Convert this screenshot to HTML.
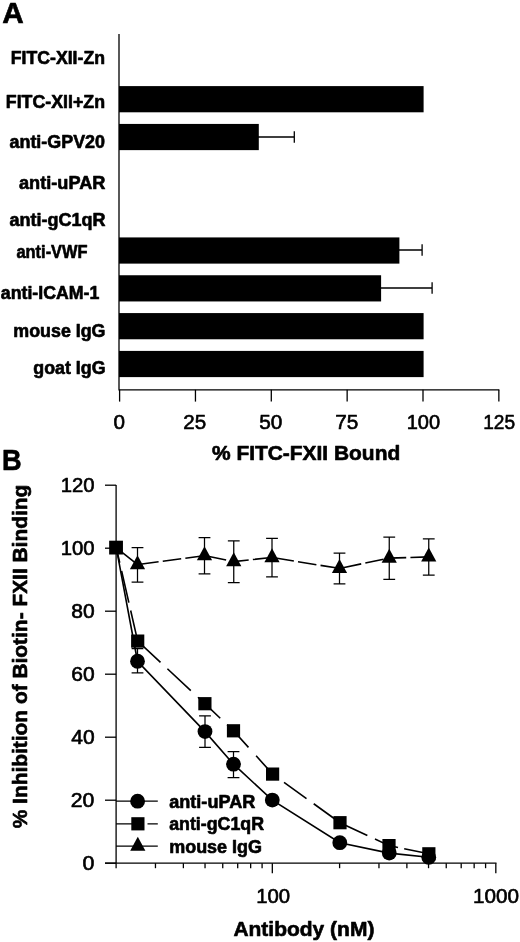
<!DOCTYPE html>
<html><head><meta charset="utf-8"><title>Figure</title>
<style>
html,body{margin:0;padding:0;background:#fff;}
body{width:520px;height:942px;overflow:hidden;}
svg{display:block;}
svg{will-change:transform;}
text{font-family:"Liberation Sans",sans-serif;fill:#000;stroke:#000;stroke-width:0.6px;stroke-linejoin:round;}
.b{font-weight:bold;stroke-width:0.65px;}
</style></head><body>
<svg width="520" height="942" viewBox="0 0 520 942">
<rect x="0" y="0" width="520" height="942" fill="#fff"/>

<text class="b" x="2.30" y="23.40" font-size="29.5" textLength="21.50" lengthAdjust="spacingAndGlyphs">A</text>
<text class="b" x="2.00" y="470.10" font-size="30" textLength="19.60" lengthAdjust="spacingAndGlyphs">B</text>
<g id="panelA">
<rect x="119.00" y="86.10" width="304.60" height="26.20" fill="#000"/>
<rect x="119.00" y="123.93" width="139.80" height="26.20" fill="#000"/>
<rect x="119.00" y="237.42" width="280.40" height="26.20" fill="#000"/>
<rect x="119.00" y="275.25" width="262.10" height="26.20" fill="#000"/>
<rect x="119.00" y="313.08" width="304.60" height="26.20" fill="#000"/>
<rect x="119.00" y="350.91" width="304.60" height="26.20" fill="#000"/>
<path d="M257.80 137.00H294.50M294.30 131.30V142.70" stroke="#000" stroke-width="1.3" fill="none"/>
<path d="M398.40 250.00H422.30M422.10 244.30V255.70" stroke="#000" stroke-width="1.3" fill="none"/>
<path d="M380.10 288.00H432.30M432.10 282.30V293.70" stroke="#000" stroke-width="1.3" fill="none"/>
<path d="M119.00 34.00V389.80H499.3" stroke="#000" stroke-width="1.3" fill="none"/>
<path d="M119.60 389.80V401.60" stroke="#000" stroke-width="1.3"/>
<path d="M195.45 389.80V401.60" stroke="#000" stroke-width="1.3"/>
<path d="M271.30 389.80V401.60" stroke="#000" stroke-width="1.3"/>
<path d="M347.15 389.80V401.60" stroke="#000" stroke-width="1.3"/>
<path d="M423.00 389.80V401.60" stroke="#000" stroke-width="1.3"/>
<path d="M498.85 389.80V401.60" stroke="#000" stroke-width="1.3"/>
<text x="113.50" y="429.30" font-size="19.5" textLength="11.50" lengthAdjust="spacingAndGlyphs">0</text>
<text x="183.20" y="429.30" font-size="19.5" textLength="22.90" lengthAdjust="spacingAndGlyphs">25</text>
<text x="259.20" y="429.30" font-size="19.5" textLength="23.10" lengthAdjust="spacingAndGlyphs">50</text>
<text x="335.20" y="429.30" font-size="19.5" textLength="23.10" lengthAdjust="spacingAndGlyphs">75</text>
<text x="406.70" y="429.30" font-size="19.5" textLength="33.40" lengthAdjust="spacingAndGlyphs">100</text>
<text x="483.20" y="429.30" font-size="19.5" textLength="31.90" lengthAdjust="spacingAndGlyphs">125</text>
<text class="b" x="10.80" y="63.70" font-size="18.3" textLength="94.20" lengthAdjust="spacingAndGlyphs">FITC-XII-Zn</text>
<text class="b" x="5.80" y="107.90" font-size="18.3" textLength="99.20" lengthAdjust="spacingAndGlyphs">FITC-XII+Zn</text>
<text class="b" x="9.50" y="148.20" font-size="18.3" textLength="95.50" lengthAdjust="spacingAndGlyphs">anti-GPV20</text>
<text class="b" x="19.00" y="188.70" font-size="18.3" textLength="86.50" lengthAdjust="spacingAndGlyphs">anti-uPAR</text>
<text class="b" x="9.50" y="226.20" font-size="18.3" textLength="96.00" lengthAdjust="spacingAndGlyphs">anti-gC1qR</text>
<text class="b" x="16.50" y="257.90" font-size="18.3" textLength="71.00" lengthAdjust="spacingAndGlyphs">anti-VWF</text>
<text class="b" x="0.80" y="299.40" font-size="18.3" textLength="98.50" lengthAdjust="spacingAndGlyphs">anti-ICAM-1</text>
<text class="b" x="13.30" y="336.90" font-size="18.3" textLength="92.20" lengthAdjust="spacingAndGlyphs">mouse IgG</text>
<text class="b" x="33.30" y="374.40" font-size="18.3" textLength="72.20" lengthAdjust="spacingAndGlyphs">goat IgG</text>
<text class="b" x="212.00" y="459.60" font-size="21" textLength="188.20" lengthAdjust="spacingAndGlyphs">% FITC-FXII Bound</text>
</g>
<g id="panelB">
<path d="M116.10 485.0V863.20" stroke="#000" stroke-width="1.3" fill="none"/>
<path d="M105 863.20H496.5" stroke="#000" stroke-width="1.3" fill="none"/>
<path d="M105 863.20H116.10" stroke="#000" stroke-width="1.3"/>
<path d="M105 800.20H116.10" stroke="#000" stroke-width="1.3"/>
<path d="M105 737.20H116.10" stroke="#000" stroke-width="1.3"/>
<path d="M105 674.20H116.10" stroke="#000" stroke-width="1.3"/>
<path d="M105 611.20H116.10" stroke="#000" stroke-width="1.3"/>
<path d="M105 548.20H116.10" stroke="#000" stroke-width="1.3"/>
<path d="M105 485.20H116.10" stroke="#000" stroke-width="1.3"/>
<path d="M116.10 863.20V868.20" stroke="#000" stroke-width="1.3"/>
<path d="M155.46 863.20V868.20" stroke="#000" stroke-width="1.3"/>
<path d="M183.38 863.20V868.20" stroke="#000" stroke-width="1.3"/>
<path d="M205.04 863.20V868.20" stroke="#000" stroke-width="1.3"/>
<path d="M222.74 863.20V868.20" stroke="#000" stroke-width="1.3"/>
<path d="M237.70 863.20V868.20" stroke="#000" stroke-width="1.3"/>
<path d="M250.66 863.20V868.20" stroke="#000" stroke-width="1.3"/>
<path d="M262.09 863.20V868.20" stroke="#000" stroke-width="1.3"/>
<path d="M339.60 863.20V868.20" stroke="#000" stroke-width="1.3"/>
<path d="M378.96 863.20V868.20" stroke="#000" stroke-width="1.3"/>
<path d="M406.88 863.20V868.20" stroke="#000" stroke-width="1.3"/>
<path d="M428.54 863.20V868.20" stroke="#000" stroke-width="1.3"/>
<path d="M446.24 863.20V868.20" stroke="#000" stroke-width="1.3"/>
<path d="M461.20 863.20V868.20" stroke="#000" stroke-width="1.3"/>
<path d="M474.16 863.20V868.20" stroke="#000" stroke-width="1.3"/>
<path d="M485.59 863.20V868.20" stroke="#000" stroke-width="1.3"/>
<path d="M272.32 863.20V873.20" stroke="#000" stroke-width="1.3"/>
<path d="M495.82 863.20V873.20" stroke="#000" stroke-width="1.3"/>
<text x="60.70" y="492.10" font-size="19.5" textLength="33.90" lengthAdjust="spacingAndGlyphs">120</text>
<text x="60.70" y="554.50" font-size="19.5" textLength="33.90" lengthAdjust="spacingAndGlyphs">100</text>
<text x="71.20" y="617.80" font-size="19.5" textLength="23.40" lengthAdjust="spacingAndGlyphs">80</text>
<text x="71.20" y="680.80" font-size="19.5" textLength="23.40" lengthAdjust="spacingAndGlyphs">60</text>
<text x="71.20" y="743.80" font-size="19.5" textLength="23.40" lengthAdjust="spacingAndGlyphs">40</text>
<text x="70.70" y="807.00" font-size="19.5" textLength="23.60" lengthAdjust="spacingAndGlyphs">20</text>
<text x="82.40" y="870.00" font-size="19.5" textLength="11.90" lengthAdjust="spacingAndGlyphs">0</text>
<text x="256.20" y="902.60" font-size="19.5" textLength="33.90" lengthAdjust="spacingAndGlyphs">100</text>
<text x="473.00" y="902.60" font-size="19.5" textLength="46.00" lengthAdjust="spacingAndGlyphs">1000</text>
<text class="b" x="233.40" y="935.60" font-size="21" textLength="141.00" lengthAdjust="spacingAndGlyphs">Antibody (nM)</text>
<text class="b" font-size="21" textLength="343.6" lengthAdjust="spacingAndGlyphs" transform="translate(26.9,828.3) rotate(-90)">% Inhibition of Biotin- FXII Binding</text>
<path d="M116.25 547.60 L137.50 661.25 L205.00 731.60 L233.50 764.20 L272.30 800.10 L339.80 842.70 L389.25 853.10 L428.75 857.30" stroke="#000" stroke-width="1.6" fill="none"/>
<path d="M116.25 547.60 L119.72 562.71M121.62 570.99 L128.86 602.57M130.67 610.47 L137.70 641.10 L160.51 662.35M167.39 668.75 L190.80 690.57M197.97 697.25 L204.90 703.70 L220.24 718.23M227.13 724.77 L233.50 730.80 L248.47 747.37M256.11 755.83 L272.60 774.10 L276.65 777.02M284.03 782.34 L306.50 798.54M313.72 803.75 L340.00 822.70 L367.36 835.48M374.97 839.04 L389.00 845.60 L398.02 847.46M404.19 848.73 L428.85 853.80" stroke="#000" stroke-width="1.6" fill="none"/>
<path d="M116.25 547.60 L118.51 549.41M121.79 552.04 L136.32 563.65M140.16 564.24 L158.60 561.77M162.76 561.21 L181.19 558.73M185.36 558.17 L203.79 555.70M207.91 556.30 L226.13 560.04M230.25 560.88 L233.75 561.60 L248.69 560.00M252.87 559.55 L271.36 557.57M275.51 558.07 L293.87 561.03M298.02 561.70 L316.38 564.67M320.53 565.34 L338.89 568.30M343.01 567.67 L361.22 563.90M365.33 563.05 L383.55 559.28M387.66 558.43 L389.25 558.10 L406.22 557.58M410.42 557.46 L428.75 556.90 L428.75 556.90" stroke="#000" stroke-width="1.6" fill="none"/>
<path d="M137.50 547.50V582.20M131.60 547.50H143.40M131.60 582.20H143.40" stroke="#000" stroke-width="1.25" fill="none"/>
<path d="M204.50 537.50V573.75M198.60 537.50H210.40M198.60 573.75H210.40" stroke="#000" stroke-width="1.25" fill="none"/>
<path d="M233.75 540.75V582.50M227.85 540.75H239.65M227.85 582.50H239.65" stroke="#000" stroke-width="1.25" fill="none"/>
<path d="M272.00 538.25V576.75M266.10 538.25H277.90M266.10 576.75H277.90" stroke="#000" stroke-width="1.25" fill="none"/>
<path d="M339.50 553.00V583.75M333.60 553.00H345.40M333.60 583.75H345.40" stroke="#000" stroke-width="1.25" fill="none"/>
<path d="M389.25 537.00V579.25M383.35 537.00H395.15M383.35 579.25H395.15" stroke="#000" stroke-width="1.25" fill="none"/>
<path d="M428.75 538.75V575.00M422.85 538.75H434.65M422.85 575.00H434.65" stroke="#000" stroke-width="1.25" fill="none"/>
<path d="M137.50 648.60V672.75M131.60 648.60H143.40M131.60 672.75H143.40" stroke="#000" stroke-width="1.25" fill="none"/>
<path d="M205.00 715.90V747.40M199.10 715.90H210.90M199.10 747.40H210.90" stroke="#000" stroke-width="1.25" fill="none"/>
<path d="M233.50 751.60V777.50M227.60 751.60H239.40M227.60 777.50H239.40" stroke="#000" stroke-width="1.25" fill="none"/>
<path d="M137.50 555.27L145.10 569.27H129.90Z" fill="#000"/>
<path d="M204.50 546.27L212.10 560.27H196.90Z" fill="#000"/>
<path d="M233.75 552.27L241.35 566.27H226.15Z" fill="#000"/>
<path d="M272.00 548.17L279.60 562.17H264.40Z" fill="#000"/>
<path d="M339.50 559.07L347.10 573.07H331.90Z" fill="#000"/>
<path d="M389.25 548.77L396.85 562.77H381.65Z" fill="#000"/>
<path d="M428.75 547.57L436.35 561.57H421.15Z" fill="#000"/>
<circle cx="137.50" cy="661.25" r="7.4" fill="#000"/>
<circle cx="205.00" cy="731.60" r="7.4" fill="#000"/>
<circle cx="233.50" cy="764.20" r="7.4" fill="#000"/>
<circle cx="272.30" cy="800.10" r="7.4" fill="#000"/>
<circle cx="339.80" cy="842.70" r="7.4" fill="#000"/>
<circle cx="389.25" cy="853.10" r="7.4" fill="#000"/>
<circle cx="428.75" cy="857.30" r="7.4" fill="#000"/>
<rect x="109.15" y="540.70" width="13.80" height="13.80" fill="#000"/>
<rect x="131.10" y="634.50" width="13.20" height="13.20" fill="#000"/>
<rect x="198.30" y="697.10" width="13.20" height="13.20" fill="#000"/>
<rect x="226.90" y="724.20" width="13.20" height="13.20" fill="#000"/>
<rect x="266.00" y="767.50" width="13.20" height="13.20" fill="#000"/>
<rect x="333.40" y="816.10" width="13.20" height="13.20" fill="#000"/>
<rect x="382.40" y="839.00" width="13.20" height="13.20" fill="#000"/>
<rect x="422.25" y="847.20" width="13.20" height="13.20" fill="#000"/>
<path d="M116.10 801.2H157.8" stroke="#000" stroke-width="1.3"/>
<circle cx="137.60" cy="801.20" r="7.4" fill="#000"/>
<path d="M116.10 823.8H132M147.5 823.8H157.8" stroke="#000" stroke-width="1.3"/>
<rect x="131.30" y="817.20" width="13.20" height="13.20" fill="#000"/>
<path d="M116.10 846.2H157.8" stroke="#000" stroke-width="1.3"/>
<path d="M137.80 836.87L145.40 850.87H130.20Z" fill="#000"/>
<text class="b" x="169.20" y="807.90" font-size="18.3" textLength="86.10" lengthAdjust="spacingAndGlyphs">anti-uPAR</text>
<text class="b" x="169.20" y="830.40" font-size="18.3" textLength="94.80" lengthAdjust="spacingAndGlyphs">anti-gC1qR</text>
<text class="b" x="169.20" y="852.90" font-size="18.3" textLength="92.80" lengthAdjust="spacingAndGlyphs">mouse IgG</text>
</g>
</svg></body></html>
